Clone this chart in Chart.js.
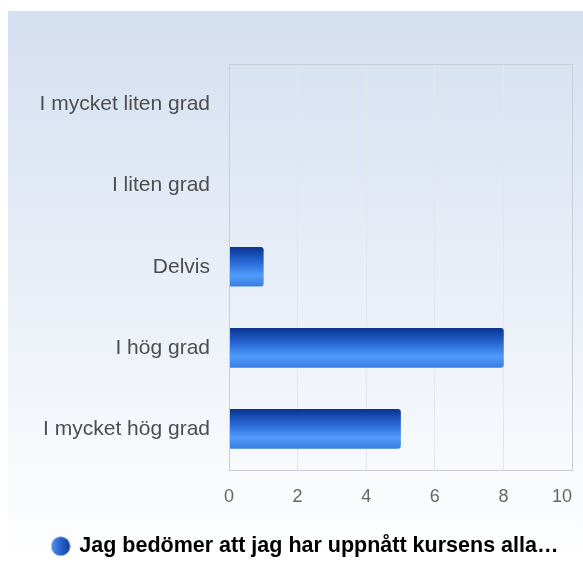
<!DOCTYPE html>
<html>
<head>
<meta charset="utf-8">
<script src="https://cdn.jsdelivr.net/npm/chart.js@4.4.1/dist/chart.umd.min.js"></script>
<style>
  html, body { margin: 0; padding: 0; background: #fff; }
  #wrap { width: 583px; height: 563px; position: relative; }
</style>
</head>
<body>
<div id="wrap"><canvas id="chart"></canvas></div>
<script>
// survey answers
const categories = ["I mycket liten grad", "I liten grad", "Delvis", "I hög grad", "I mycket hög grad"];
const answers = [0, 0, 1, 8, 5];
const xTicks = [0, 2, 4, 6, 8, 10];
const seriesLabel = "Jag bedömer att jag har uppnått kursens alla…";

const FONT = "'Liberation Sans', Arial, sans-serif";
const BAR_H = 39;

// little shaded ball for the legend
const ball = document.createElement("canvas");
ball.width = 20; ball.height = 20;
(() => {
  const c = ball.getContext("2d");
  const g = c.createLinearGradient(0, 0, 20, 0);
  g.addColorStop(0, "#5595f2");
  g.addColorStop(0.5, "#2a62cc");
  g.addColorStop(1, "#0d3b96");
  c.fillStyle = g;
  c.beginPath(); c.arc(10, 10, 9.5, 0, Math.PI * 2); c.fill();
})();

function barFill(ctx) {
  const chart = ctx.chart;
  const y = chart.scales.y ? chart.scales.y.getPixelForValue(ctx.dataIndex) : 0;
  const g = chart.ctx.createLinearGradient(0, y - BAR_H / 2, 0, y + BAR_H / 2);
  g.addColorStop(0, "#0a3590");
  g.addColorStop(0.35, "#2563cf");
  g.addColorStop(0.72, "#4f9bfb");
  g.addColorStop(1, "#3a7fe2");
  return g;
}

const panelBg = {
  id: "panelBg",
  beforeDraw(chart) {
    const { ctx, width, height } = chart;
    ctx.save();
    ctx.fillStyle = "#ffffff";
    ctx.fillRect(0, 0, width, height);
    const g = ctx.createLinearGradient(0, 11, 0, height);
    g.addColorStop(0, "#d4dff0");
    g.addColorStop(1, "#ffffff");
    ctx.fillStyle = g;
    ctx.fillRect(8, 11, width - 8, height - 11);
    ctx.restore();

    // last x label sits inside the plot, right aligned
    const s = chart.scales.x;
    const items = s.getLabelItems();
    const last = items[items.length - 1];
    if (last) {
      last.options.textAlign = "right";
      last.options.translation[0] = chart.chartArea.right;
    }
  },
  afterDraw(chart) {
    const { ctx, chartArea: a } = chart;
    ctx.save();
    ctx.strokeStyle = "#c9ced6";
    ctx.lineWidth = 1;
    ctx.strokeRect(Math.round(a.left) + 0.5, Math.round(a.top) + 0.5,
      Math.round(a.right - a.left), Math.round(a.bottom - a.top));
    ctx.restore();
  }
};

new Chart(document.getElementById("chart"), {
  type: "bar",
  data: {
    labels: categories,
    datasets: [{
      label: seriesLabel,
      data: answers,
      backgroundColor: barFill,
      borderWidth: 0,
      borderRadius: 3,
      borderSkipped: "start",
      barThickness: BAR_H
    }]
  },
  options: {
    indexAxis: "y",
    responsive: true,
    maintainAspectRatio: false,
    animation: false,
    layout: { padding: { top: 64, right: 11, left: 39, bottom: -4 } },
    plugins: {
      tooltip: { enabled: false },
      legend: {
        position: "bottom",
        labels: {
          usePointStyle: true,
          pointStyle: ball,
          pointStyleWidth: 16,
          padding: 10,
          color: "#333333",
          font: { family: FONT, size: 21.5, weight: "bold" },
          generateLabels: (chart) => [{
            text: chart.data.datasets[0].label,
            pointStyle: ball,
            fillStyle: "#2a62cc",
            lineWidth: 0,
            datasetIndex: 0
          }]
        }
      }
    },
    scales: {
      x: {
        min: 0,
        max: 10,
        afterBuildTicks: (s) => { s.ticks = xTicks.map(v => ({ value: v })); },
        afterFit: (s) => { s.height = 56; s.paddingLeft = 0; s.paddingRight = 0; },
        grid: { color: "#e3e6ea", drawTicks: false },
        border: { display: false },
        ticks: { padding: 17, color: "#666666", font: { family: FONT, size: 18 } }
      },
      y: {
        afterFit: (s) => { s.width = 190; },
        grid: { display: false, drawTicks: false },
        border: { display: false },
        ticks: { padding: 19, color: "#4d4d4d", font: { family: FONT, size: 21 } }
      }
    }
  },
  plugins: [panelBg]
});
</script>
</body>
</html>
